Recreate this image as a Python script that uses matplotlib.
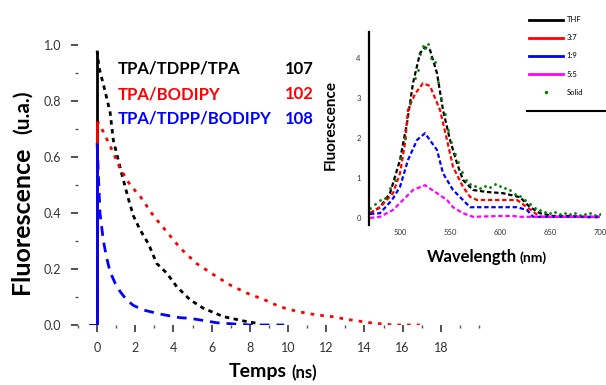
import matplotlib
matplotlib.use("Agg")
import matplotlib.pyplot as plt
from matplotlib.lines import Line2D
from matplotlib.ticker import MultipleLocator

plt.rcParams['font.family'] = ['Lato', 'DejaVu Sans']

# ---------------- main plot data (time-resolved decays) ----------------
t_black = [-0.4, 0, 0, 0.1, 0.4, 0.68, 0.85, 1.29, 1.64, 1.9, 2.25, 2.69, 3.12, 3.65,
           4.17, 4.87, 5.56, 6.61, 7.84, 8.5]
v_black = [0, 0, 0.98, 0.92, 0.84, 0.76, 0.66, 0.54, 0.45, 0.39, 0.34, 0.29, 0.22, 0.185,
           0.137, 0.09, 0.06, 0.03, 0.012, 0.005]

t_red = [-0.4, 0, 0, 0.25, 0.68, 1.2, 1.73, 2.25, 2.95, 3.56, 4.35, 5.2, 6.09, 6.96,
         7.84, 8.8, 9.58, 10.5, 11.5, 12.3, 13.1, 14.3, 15.5, 16.9]
v_red = [0, 0, 0.73, 0.70, 0.64, 0.56, 0.50, 0.46, 0.39, 0.34, 0.275, 0.22, 0.18, 0.143,
         0.114, 0.089, 0.065, 0.048, 0.036, 0.03, 0.02, 0.008, 0, 0]

t_blue = [-0.4, 0, 0, 0.15, 0.33, 0.5, 0.68, 0.94, 1.2, 1.55, 1.9, 2.4, 3.3, 4.35,
          4.87, 6.27, 8.0, 9.8]
v_blue = [0, 0, 0.65, 0.40, 0.30, 0.24, 0.19, 0.15, 0.12, 0.089, 0.07, 0.054, 0.039, 0.026,
          0.024, 0.008, 0, 0]

series_names = ["TPA/TDPP/TPA", "TPA/BODIPY", "TPA/TDPP/BODIPY"]
series_values = ["107", "102", "108"]
series_colors = ["black", "red", "blue"]

x_ticks = [0, 2, 4, 6, 8, 10, 12, 14, 16, 18]
y_ticks = [0.0, 0.2, 0.4, 0.6, 0.8, 1.0]

# ---------------- inset data (emission spectra) ----------------
wl_black = [470, 480, 490, 500, 507, 513, 520, 525, 530, 537, 543, 550, 557, 563, 573,
            587, 603, 620, 630, 640, 653, 670, 685, 700]
f_black = [0.12, 0.27, 0.62, 1.45, 2.37, 3.37, 4.12, 4.27, 4.2, 3.62, 2.7, 1.95, 1.37, 0.95, 0.7,
           0.65, 0.62, 0.52, 0.27, 0.12, 0.05, 0.05, 0.02, 0.02]

wl_red = [470, 480, 493, 500, 505, 508, 515, 523, 530, 540, 547, 553, 563, 570, 577,
          600, 617, 627, 640, 670, 700]
f_red = [0.12, 0.27, 0.62, 1.12, 1.87, 2.7, 3.1, 3.37, 3.3, 2.7, 1.95, 1.28, 0.78, 0.53, 0.45,
         0.45, 0.45, 0.27, 0.03, 0.03, 0.03]

wl_blue = [470, 480, 492, 500, 508, 517, 525, 537, 543, 553, 563, 570, 590, 617, 627,
           633, 670, 700]
f_blue = [0.1, 0.12, 0.45, 0.78, 1.45, 1.95, 2.12, 1.7, 1.12, 0.7, 0.45, 0.27, 0.27, 0.27, 0.2,
          0.03, 0.03, 0.03]

wl_mag = [470, 480, 493, 503, 513, 525, 537, 547, 553, 563, 573, 600, 613, 620, 660, 700]
f_mag = [0.0, 0.03, 0.2, 0.45, 0.7, 0.82, 0.62, 0.45, 0.27, 0.12, 0.03, 0.05, 0.05, 0.03, 0.03,
         0.03]

wl_green = [470, 475, 480, 485, 490, 495, 500, 505, 510, 515, 518, 520, 523, 525, 528, 531,
            535, 538, 541, 545, 548, 551, 555, 558, 562, 566, 570, 575, 580, 585, 590, 595,
            600, 605, 610, 615, 620, 625, 630, 635, 640, 645, 650, 655, 660, 665, 670, 675,
            680, 685, 690, 695, 700]
f_green = [0.25, 0.35, 0.45, 0.5, 0.75, 0.95, 1.5, 2.0, 2.9, 3.5, 3.7, 4.1, 4.3, 4.25, 4.35, 4.0,
           3.9, 3.4, 3.0, 2.6, 2.2, 1.9, 1.6, 1.4, 1.15, 0.95, 0.85, 0.8, 0.75, 0.8, 0.78, 0.85,
           0.8, 0.75, 0.7, 0.6, 0.55, 0.45, 0.35, 0.25, 0.2, 0.15, 0.12, 0.15, 0.1, 0.12, 0.1, 0.12,
           0.08, 0.1, 0.12, 0.08, 0.1]

inset_labels = ["THF", "3:7", "1:9", "5:5", "Solid"]
inset_x_ticks = [500, 550, 600, 650, 700]
inset_y_ticks = [0, 1, 2, 3, 4]

W, H = 606, 385
fig = plt.figure(figsize=(W / 100, H / 100), dpi=100)

def fx(px):
    return px / W

def fy(py):
    return 1 - py / H

# ---------------- main axes ----------------
ax = fig.add_axes([fx(78), fy(325), fx(479) - fx(78), fy(45) - fy(325)])
ax.set_xlim(-1, 20)
ax.set_ylim(0, 1.0)
for s in ax.spines.values():
    s.set_visible(False)

styles = [(0, (1.6, 1.6)), (0, (1.3, 2.2)), (0, (3.5, 2.5))]
for t, v, c, ls in zip([t_black, t_red, t_blue], [v_black, v_red, v_blue],
                       series_colors, styles):
    ax.plot(t[:3], v[:3], color=c, lw=2.0, solid_capstyle='butt', zorder=3)
    ax.plot(t[2:], v[2:], color=c, lw=2.0, linestyle=ls, zorder=2)

ax.set_xticks(x_ticks)
ax.set_xticklabels([str(x) for x in x_ticks])
ax.set_yticks(y_ticks)
ax.set_yticklabels([f"{y:.1f}" for y in y_ticks])
ax.xaxis.set_minor_locator(MultipleLocator(1))
ax.yaxis.set_minor_locator(MultipleLocator(0.1))
ax.tick_params(axis='both', which='major', length=5, width=1.2, color='#333333',
               labelsize=9, labelcolor='#333333', pad=7)
ax.tick_params(axis='both', which='minor', length=2, width=1.0, color='#555555')

# legend-like annotations
row_y = [69, 94, 119]
for name, val, c, ry in zip(series_names, series_values, series_colors, row_y):
    fig.text(fx(118), fy(ry), name, color=c, fontsize=12, fontweight='bold',
             ha='left', va='center')
    fig.text(fx(314), fy(ry), val, color=c, fontsize=12, fontweight='bold',
             ha='right', va='center')

# axis labels
fig.text(fx(22), fy(220), "Fluorescence", rotation=90, fontsize=18, fontweight='bold',
         ha='center', va='center')
fig.text(fx(23), fy(112), "(u.a.)", rotation=90, fontsize=15, fontweight='bold',
         ha='center', va='center')
fig.text(fx(287), fy(372), "Temps", fontsize=14, fontweight='bold', ha='right', va='center')
fig.text(fx(291), fy(373), "(ns)", fontsize=12, fontweight='bold', ha='left', va='center')

# ---------------- inset axes ----------------
ia = fig.add_axes([fx(369), fy(225), fx(600) - fx(369), fy(32) - fy(225)])
ia.set_facecolor('none')
ia.set_xlim(469, 700)
ia.set_ylim(-0.175, 4.65)
for k in ['top', 'right', 'bottom']:
    ia.spines[k].set_visible(False)
ia.spines['left'].set_linewidth(1.6)

ils = (0, (2.0, 1.2))
ia.plot(wl_black, f_black, color='black', lw=1.6, linestyle=ils)
ia.plot(wl_red, f_red, color='red', lw=1.6, linestyle=ils)
ia.plot(wl_blue, f_blue, color='blue', lw=1.6, linestyle=ils)
ia.plot(wl_mag, f_mag, color='magenta', lw=1.6, linestyle=ils)
ia.plot(wl_green, f_green, color='green', linestyle='none', marker='o', markersize=2.0,
        markeredgewidth=0)

ia.set_xticks(inset_x_ticks)
ia.set_xticklabels([str(x) for x in inset_x_ticks])
ia.set_yticks(inset_y_ticks)
ia.set_yticklabels([str(y) for y in inset_y_ticks])
ia.tick_params(axis='both', length=0, labelsize=5.5, labelcolor='#333333', pad=3)
ia.tick_params(axis='y', pad=6)

fig.text(fx(331), fy(125), "Fluorescence", rotation=90, fontsize=11, fontweight='bold',
         ha='center', va='center')
fig.text(fx(517), fy(257), "Wavelength", fontsize=12, fontweight='bold', ha='right',
         va='center')
fig.text(fx(520), fy(258), "(nm)", fontsize=10, fontweight='bold', ha='left', va='center')

handles = [Line2D([], [], color='black', lw=2),
           Line2D([], [], color='red', lw=2),
           Line2D([], [], color='blue', lw=2),
           Line2D([], [], color='magenta', lw=2),
           Line2D([], [], color='green', linestyle='none', marker='o', markersize=2.5,
                  markeredgewidth=0)]
fig.legend(handles, inset_labels, loc='upper left',
           bbox_to_anchor=(fx(527), fy(14)), frameon=False, fontsize=5.5,
           handlelength=4.4, handletextpad=0.5, labelspacing=1.45, borderaxespad=0,
           borderpad=0.3)
fig.add_artist(Line2D([fx(527), fx(606)], [fy(111), fy(111)], color='black', lw=1.5,
                      transform=fig.transFigure))

fig.savefig("out.png", dpi=100)
